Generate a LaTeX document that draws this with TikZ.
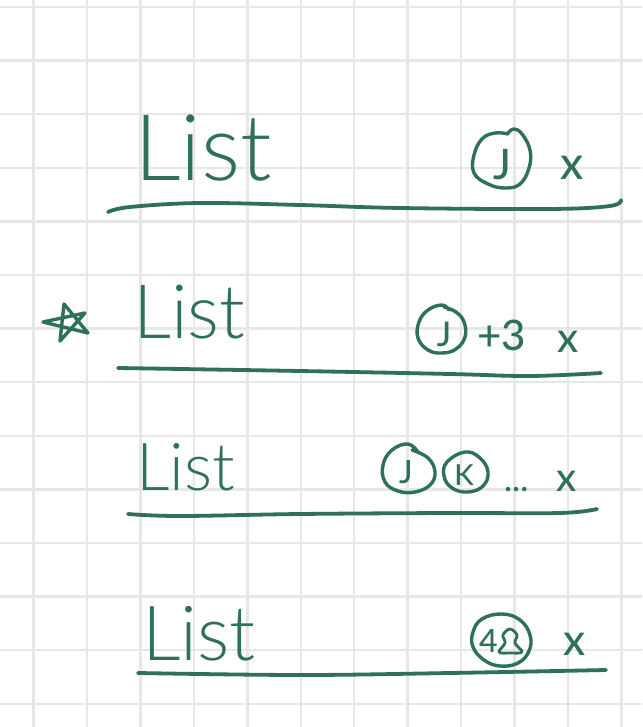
\documentclass[tikz,border=0pt]{standalone}
\usepackage{fontspec}
\setmainfont{Lato Medium}
\newfontfamily\lightfont{Lato Light}
\newcommand{\fsz}[1]{\fontsize{#1}{#1}\selectfont}
\definecolor{ink}{RGB}{46,112,88}
\definecolor{gridc}{RGB}{231,231,231}
\tikzset{
  pen/.style={draw=ink,line width=3.4pt,line cap=round,line join=round},
  underline/.style={pen,line width=3.8pt},
  listtitle/.style={text=ink,inner sep=0pt,anchor=base west},
  glyph/.style={text=ink,inner sep=0pt,anchor=center},
  glyphbase/.style={text=ink,inner sep=0pt,anchor=base west},
  sheet/.style={draw=gridc,line width=2.4pt}
}
\begin{document}
\begin{tikzpicture}[x=1pt,y=-1pt]
\useasboundingbox (0,0) rectangle (642,727);
\fill[white] (0,0) rectangle (642,727);
% grid
\foreach \i in {0,...,11} \draw[sheet] ({33.5+53.45*\i},0) -- ({33.5+53.45*\i},727);
\foreach \j in {0,...,13} \draw[sheet] (0,{7+53.6*\j}) -- (642,{7+53.6*\j});
% row 1
\node[listtitle,font=\lightfont\fsz{92}] (list1) at (134,181) {List};
\draw[underline] plot[smooth,tension=0.6] coordinates {(108,212) (130,207) (200,203) (300,205) (400,208) (550,209) (610,206) (621,200)};
\draw[pen] plot[smooth,tension=0.7] coordinates {(508,134) (495,133) (482,139) (474,155) (474,173) (488,184) (505,188) (520,184) (529,168) (530,150) (522,134) (514,129) (508,133)};
\node[glyph,font=\fsz{42}] (j1) at (502,165) {J};
\node[glyph,font=\fsz{46}] (x1) at (572,168) {x};
% row 2
\draw[pen] (43,322) -- (85,313) -- (60,341) -- (64,304) -- (88,333) -- (43,322);
\node[listtitle,font=\lightfont\fsz{75}] (list2) at (133,338) {List};
\draw[underline] plot[smooth,tension=0.6] coordinates {(118,368) (300,371) (450,374) (530,376) (601,373)};
\draw[pen] plot[smooth,tension=0.7] coordinates {(449,310) (442,305) (428,310) (419,322) (418,338) (428,350) (442,353) (456,349) (465,337) (464,322) (456,312) (444,307)};
\node[glyph,font=\fsz{34}] (j2) at (444,334) {J};
\node[glyphbase,font=\fsz{42}] (plus2) at (477,350) {+3};
\node[glyph,font=\fsz{42}] (x2) at (568,342) {x};
% row 3
\node[listtitle,font=\lightfont\fsz{66}] (list3) at (136,490) {List};
\draw[underline] plot[smooth,tension=0.6] coordinates {(128,514) (180,516) (300,514) (450,513) (560,513) (597,509)};
\draw[pen] plot[smooth,tension=0.7] coordinates {(418,452) (408,444) (392,450) (383,465) (385,482) (398,491) (415,492) (430,485) (435,472) (428,458) (412,450)};
\node[glyph,font=\fsz{32}] (j3) at (406,472) {J};
\draw[pen] plot[smooth cycle,tension=0.7] coordinates {(465,452) (480,458) (488,472) (483,486) (468,492) (452,488) (444,476) (447,462)};
\node[glyph,font=\fsz{29}] (k3) at (464,475) {K};
\node[glyphbase,font=\fsz{34}] (dots3) at (504,491) {...};
\node[glyph,font=\fsz{40}] (x3) at (567,481) {x};
% row 4
\node[listtitle,font=\lightfont\fsz{76}] (list4) at (142,660) {List};
\draw[underline] plot[smooth,tension=0.6] coordinates {(138,673) (300,675) (450,673) (606,670)};
\draw[pen] plot[smooth cycle,tension=0.7] coordinates {(502,614) (520,620) (530,635) (529,651) (518,663) (500,666) (484,660) (473,647) (473,632) (482,619)};
\node[glyphbase,font=\fsz{32}] (num4) at (479,652) {4};
\draw[pen,line width=2.8pt] plot[smooth cycle,tension=0.6] coordinates {(499,652) (505,643) (503,635) (510,629) (517,635) (515,643) (522,652) (510,653)};
\node[glyph,font=\fsz{44}] (x4) at (575,644) {x};
\end{tikzpicture}
\end{document}
